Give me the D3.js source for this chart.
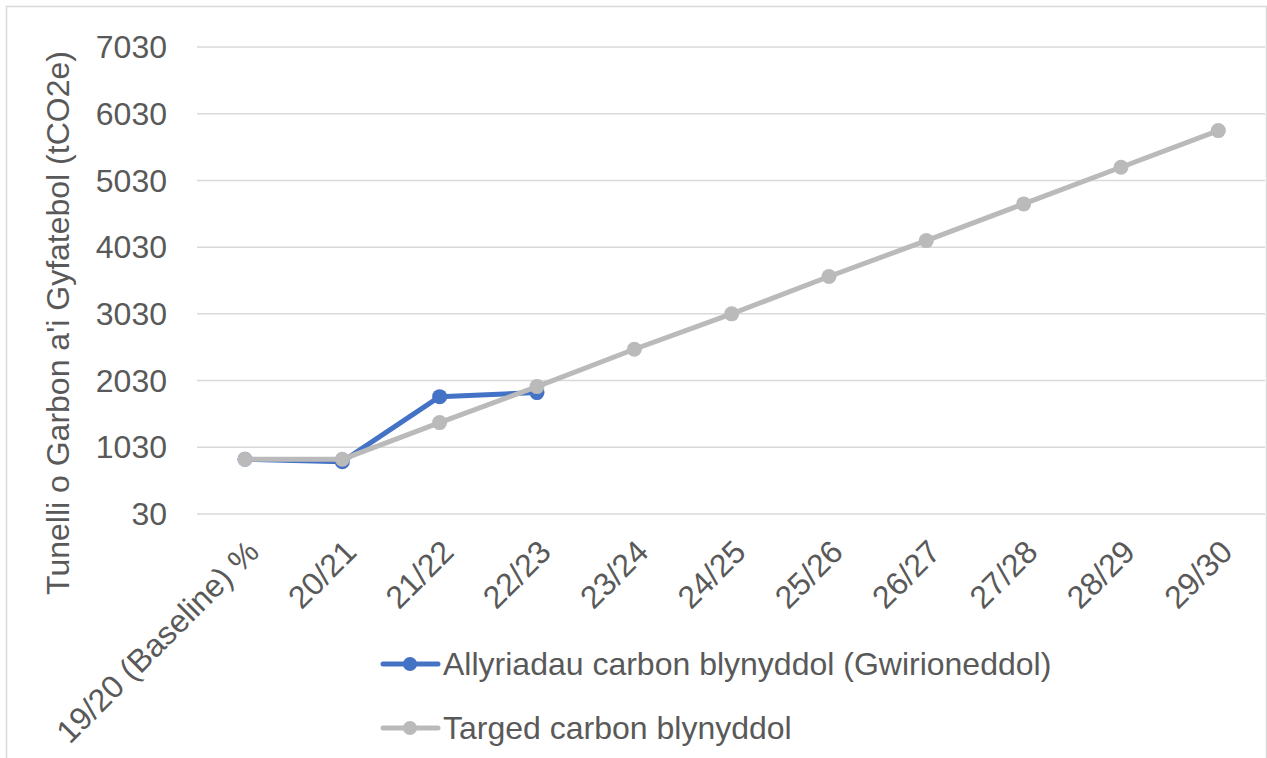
<!DOCTYPE html>
<meta charset="utf-8">
<style>
body { margin: 0; background: #fff; }
text { font-family: Arial, "Liberation Sans", sans-serif; fill: #595959; }
.grid line { stroke: #d9d9d9; stroke-width: 1.5; }
</style>
<body>
<svg width="1267" height="758"></svg>
<script src="https://d3js.org/d3.v7.min.js"></script>
<script>

var categories = ["19/20 (Baseline) %", "20/21", "21/22", "22/23", "23/24", "24/25",
                  "25/26", "26/27", "27/28", "28/29", "29/30"];
var actual = [850, 815, 1789, 1850];
var target = [850, 850, 1400, 1940, 2500, 3030, 3590, 4128, 4678, 5228, 5777];
var yTicks = [30, 1030, 2030, 3030, 4030, 5030, 6030, 7030];
var seriesNames = ["Allyriadau carbon blynyddol (Gwirioneddol)", "Targed carbon blynyddol"];
var colors = ["#4472c4", "#bababa"];
var yTitle = "Tunelli o Garbon a'i Gyfatebol (tCO2e)";

var svg = d3.select("svg");

// chart border
svg.append("rect")
    .attr("x", 6.5).attr("y", 6.5)
    .attr("width", 1260).attr("height", 770)
    .attr("fill", "none").attr("stroke", "#d9d9d9").attr("stroke-width", 1.5);

var x = d3.scaleBand().domain(categories).range([196.3, 1267]).padding(0);
var y = d3.scaleLinear().domain([30, 7030]).range([514, 47]);

var grid = svg.append("g").attr("class", "grid");
grid.selectAll("line")
    .data(yTicks)
  .enter().append("line")
    .attr("x1", 197).attr("x2", 1265)
    .attr("y1", function(d) { return y(d); })
    .attr("y2", function(d) { return y(d); });

svg.append("g").selectAll("text")
    .data(yTicks)
  .enter().append("text")
    .attr("x", 167)
    .attr("y", function(d) { return y(d); })
    .attr("dy", "0.35em")
    .attr("text-anchor", "end")
    .style("font-size", "32px")
    .text(function(d) { return d; });

svg.append("g").selectAll("text")
    .data(categories)
  .enter().append("text")
    .attr("transform", function(d) {
      return "translate(" + (x(d) + x.bandwidth() / 2 + 8) + ",546) rotate(-45)";
    })
    .attr("dy", "0.35em")
    .attr("text-anchor", "end")
    .style("font-size", "32px")
    .text(function(d) { return d; });

svg.append("text")
    .attr("transform", "translate(69,323) rotate(-90)")
    .attr("text-anchor", "middle")
    .style("font-size", "32px")
    .text(yTitle);

var line = d3.line()
    .x(function(d, i) { return x(categories[i]) + x.bandwidth() / 2; })
    .y(function(d) { return y(d); });

[actual, target].forEach(function(data, s) {
  var g = svg.append("g");
  g.append("path")
      .datum(data)
      .attr("d", line)
      .attr("fill", "none")
      .attr("stroke", colors[s])
      .attr("stroke-width", 5)
      .attr("stroke-linejoin", "round");
  g.selectAll("circle")
      .data(data)
    .enter().append("circle")
      .attr("cx", function(d, i) { return x(categories[i]) + x.bandwidth() / 2; })
      .attr("cy", function(d) { return y(d); })
      .attr("r", 7.5)
      .attr("fill", colors[s]);
});

// legend
var legend = svg.append("g").selectAll("g")
    .data(seriesNames)
  .enter().append("g")
    .attr("transform", function(d, i) { return "translate(0," + (664 + i * 64) + ")"; });

legend.append("line")
    .attr("x1", 383).attr("x2", 438)
    .attr("stroke", function(d, i) { return colors[i]; })
    .attr("stroke-width", 5)
    .attr("stroke-linecap", "round");

legend.append("circle")
    .attr("cx", 410).attr("r", 7)
    .attr("fill", function(d, i) { return colors[i]; });

legend.append("text")
    .attr("x", 443)
    .attr("dy", "0.35em")
    .style("font-size", "32px")
    .text(function(d) { return d; });

</script>
</body>
